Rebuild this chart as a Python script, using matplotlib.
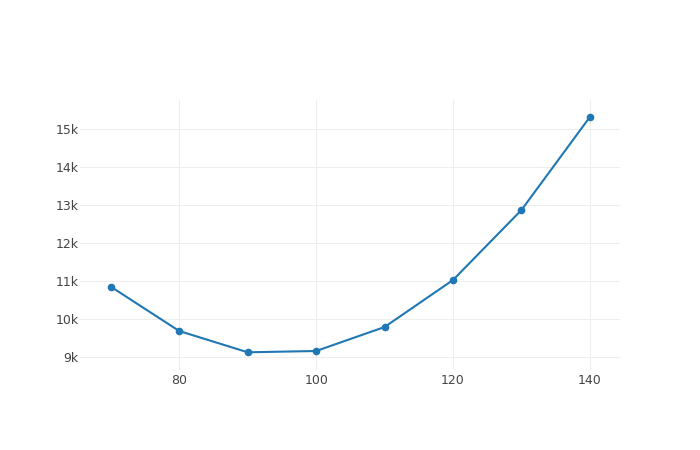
import matplotlib
matplotlib.use("Agg")
import matplotlib.pyplot as plt
from matplotlib.ticker import FuncFormatter

x_vals = [70, 80, 90, 100, 110, 120, 130, 140]
y_vals = [10858, 9692, 9132, 9166, 9797, 11034, 12876, 15324]
x_ticks = [80, 100, 120, 140]
y_ticks = [9000, 10000, 11000, 12000, 13000, 14000, 15000]

plt.rcParams['font.family'] = ['DejaVu Sans']
fig = plt.figure(figsize=(7, 4.5), dpi=100)
ax = fig.add_axes([80/700, 80/450, 540/700, 270/450])
ax.plot(x_vals, y_vals, color='#1f77b4', lw=1.5, marker='o', ms=4.5, zorder=3)
ax.set_xlim(65.5, 144.4)
ax.set_ylim(8666, 15771)
ax.set_xticks(x_ticks)
ax.set_yticks(y_ticks)
ax.yaxis.set_major_formatter(FuncFormatter(lambda v, p: f"{int(round(v/1000))}k"))
ax.grid(True, color='#eeeeee', lw=0.8)
ax.set_axisbelow(True)
for s in ax.spines.values():
    s.set_visible(False)
ax.tick_params(axis='both', length=0, labelsize=9, labelcolor='#444444')
ax.tick_params(axis='y', pad=1)
ax.tick_params(axis='x', pad=3)
fig.savefig("out.png", dpi=100)
